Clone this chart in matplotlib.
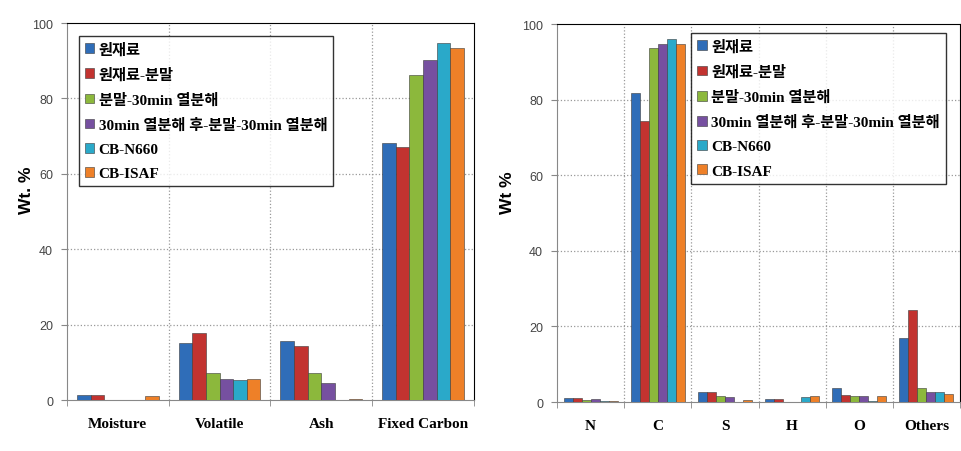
import matplotlib
matplotlib.use("Agg")
import matplotlib.pyplot as plt
import numpy as np

series = ["원재료", "원재료-분말", "분말-30min 열분해",
          "30min 열분해 후-분말-30min 열분해", "CB-N660", "CB-ISAF"]
colors = ["#2F6DB8", "#C23330", "#8CB83C", "#7650A0", "#2AA9C9", "#EE8028"]

prox_cats = ["Moisture", "Volatile", "Ash", "Fixed Carbon"]
prox_vals = [
    [1.3, 15.0, 15.6, 68.3],   # 원재료
    [1.3, 17.8, 14.4, 67.0],   # 원재료-분말
    [0.1, 7.2, 7.2, 86.3],     # 분말-30min 열분해
    [0.0, 5.7, 4.4, 90.3],     # 30min 열분해 후-분말-30min 열분해
    [0.1, 5.4, 0.0, 94.7],     # CB-N660
    [1.0, 5.6, 0.4, 93.5],     # CB-ISAF
]

elem_cats = ["N", "C", "S", "H", "O", "Others"]
elem_vals = [
    [1.0, 81.8, 2.7, 0.8, 3.8, 16.9],
    [1.0, 74.3, 2.6, 0.8, 1.9, 24.4],
    [0.6, 93.7, 1.7, 0.1, 1.6, 3.7],
    [0.9, 94.8, 1.4, 0.1, 1.6, 2.7],
    [0.3, 96.0, 0.1, 1.2, 0.3, 2.7],
    [0.3, 94.8, 0.6, 1.5, 1.5, 2.1],
]
yticks = [0, 20, 40, 60, 80, 100]

fig = plt.figure(figsize=(9.62, 4.52), dpi=100)
axL = fig.add_axes([0.0696, 0.1128, 0.423, 0.834])
axR = fig.add_axes([0.579, 0.1084, 0.419, 0.836])

serif_kr = ["Liberation Serif", "Noto Sans CJK KR"]


def draw(ax, cats, vals, ylabel, leg_anchor, ylab_pos):
    n = len(series)
    w = 0.134
    x = np.arange(len(cats))
    for j in range(n):
        pos = x + (j - (n - 1) / 2) * w
        ax.bar(pos, vals[j], width=w, color=colors[j],
               edgecolor="#3a3a3a", linewidth=0.4, label=series[j], zorder=3)
    ax.set_xlim(-0.5, len(cats) - 0.5)
    ax.set_ylim(0, 100)
    ax.set_yticks(yticks)
    ax.set_yticklabels([str(t) for t in yticks], fontsize=9,
                       family="Liberation Sans", color="#444444")
    ax.set_xticks(x)
    ax.set_xticklabels(cats, fontsize=11, family="Liberation Serif",
                       fontweight="bold")
    ax.tick_params(axis="x", which="major", length=0, pad=12)
    bounds = np.arange(len(cats) + 1) - 0.5
    ax.set_xticks(bounds, minor=True)
    ax.tick_params(axis="x", which="minor", length=4, color="#888888")
    ax.tick_params(axis="y", length=4, color="#888888", pad=6)
    for b in bounds[1:-1]:
        ax.axvline(b, color="#999999", linestyle=":", linewidth=0.9, zorder=1)
    for t in yticks[1:-1]:
        ax.axhline(t, color="#999999", linestyle=":", linewidth=0.9, zorder=1)
    ax.spines["top"].set_color("black")
    ax.spines["right"].set_color("black")
    ax.spines["left"].set_color("#888888")
    ax.spines["bottom"].set_color("#888888")
    ax.set_ylabel(ylabel, fontsize=12.5, family="Liberation Sans",
                  fontweight="bold")
    ax.yaxis.set_label_coords(*ylab_pos)
    leg = ax.legend(loc="upper left", bbox_to_anchor=leg_anchor,
                    borderaxespad=0, frameon=True, fancybox=False,
                    edgecolor="black", handlelength=0.6, handleheight=0.6,
                    handletextpad=0.3, labelspacing=0.72, borderpad=0.4,
                    prop={"family": serif_kr, "weight": "bold", "size": 11})
    leg.get_frame().set_linewidth(1.0)
    leg.set_zorder(5)


draw(axL, prox_cats, prox_vals, "Wt. %", (0.029, 0.966), (-0.08, 0.56))
draw(axR, elem_cats, elem_vals, "Wt %", (0.333, 0.976), (-0.103, 0.556))

fig.savefig("out.png", dpi=100)
